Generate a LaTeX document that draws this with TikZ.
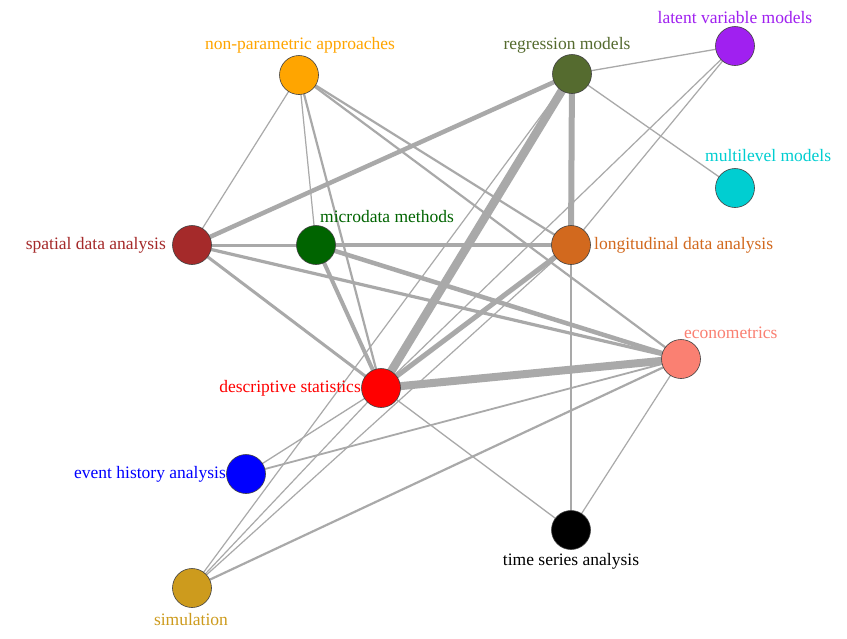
\documentclass[tikz,border=0pt]{standalone}
\usepackage{fontspec}
\setmainfont{Liberation Serif}
\definecolor{cNP}{RGB}{255,165,0}
\definecolor{cReg}{RGB}{85,107,47}
\definecolor{cLat}{RGB}{160,32,240}
\definecolor{cMul}{RGB}{0,206,209}
\definecolor{cSp}{RGB}{165,42,42}
\definecolor{cMic}{RGB}{0,100,0}
\definecolor{cLon}{RGB}{210,105,30}
\definecolor{cEco}{RGB}{250,128,114}
\definecolor{cDes}{RGB}{255,0,0}
\definecolor{cEH}{RGB}{0,0,255}
\definecolor{cTS}{RGB}{0,0,0}
\definecolor{cSim}{RGB}{205,155,29}
\definecolor{edgegray}{RGB}{169,169,169}
\tikzset{
  vert/.style={circle, draw=black!75, line width=0.6pt, minimum size=39pt, inner sep=0pt},
  lab/.style={inner sep=0pt, font=\fontsize{17.5}{20}\selectfont},
  edge/.style={draw=edgegray, line cap=butt},
}
\begin{document}
\begin{tikzpicture}[x=1pt,y=-1pt]
\useasboundingbox (0,0) rectangle (847,638);
\fill[white] (0,0) rectangle (847,638);
% vertex coordinates
\coordinate (np) at (299,75);
\coordinate (reg) at (572,74);
\coordinate (lat) at (735,46);
\coordinate (mul) at (735,188);
\coordinate (sp) at (192,245);
\coordinate (mic) at (316,245);
\coordinate (lon) at (571,245);
\coordinate (eco) at (681,359);
\coordinate (des) at (381,388);
\coordinate (eh) at (246,474);
\coordinate (ts) at (571,530);
\coordinate (sim) at (192,588);
% edges
\begin{scope}[edge]
\draw[line width=1.2] (sp) -- (np);
\draw[line width=4.5] (sp) -- (reg);
\draw[line width=3] (sp) -- (mic);
\draw[line width=3] (sp) -- (des);
\draw[line width=3.2] (sp) -- (eco);
\draw[line width=1.2] (np) -- (mic);
\draw[line width=2.2] (np) -- (des);
\draw[line width=2.2] (np) -- (lon);
\draw[line width=2.2] (np) -- (eco);
\draw[line width=4.2] (mic) -- (lon);
\draw[line width=4] (mic) -- (des);
\draw[line width=4.5] (mic) -- (eco);
\draw[line width=8.5] (reg) -- (des);
\draw[line width=6] (reg) -- (lon);
\draw[line width=1.3] (reg) -- (lat);
\draw[line width=1.3] (reg) -- (mul);
\draw[line width=1.2] (reg) -- (sim);
\draw[line width=1.2] (lat) -- (lon);
\draw[line width=1.2] (lat) -- (des);
\draw[line width=5] (lon) -- (des);
\draw[line width=1.2] (lon) -- (ts);
\draw[line width=1.2] (lon) -- (sim);
\draw[line width=8] (des) -- (eco);
\draw[line width=1.3] (des) -- (eh);
\draw[line width=1.2] (des) -- (sim);
\draw[line width=1.3] (des) -- (ts);
\draw[line width=1.8] (eco) -- (eh);
\draw[line width=2.2] (eco) -- (sim);
\draw[line width=1.2] (eco) -- (ts);
\end{scope}
% vertices
\node[vert, fill=cNP] (npN) at (np) {};
\node[vert, fill=cReg] (regN) at (reg) {};
\node[vert, fill=cLat] (latN) at (lat) {};
\node[vert, fill=cMul] (mulN) at (mul) {};
\node[vert, fill=cSp] (spN) at (sp) {};
\node[vert, fill=cMic] (micN) at (mic) {};
\node[vert, fill=cLon] (lonN) at (lon) {};
\node[vert, fill=cEco] (ecoN) at (eco) {};
\node[vert, fill=cDes] (desN) at (des) {};
\node[vert, fill=cEH] (ehN) at (eh) {};
\node[vert, fill=cTS] (tsN) at (ts) {};
\node[vert, fill=cSim] (simN) at (sim) {};
% labels
\node[lab, text=cNP] (npL) at (300,45) {non-parametric approaches};
\node[lab, text=cReg] (regL) at (567,45) {regression models};
\node[lab, text=cLat] (latL) at (735,18) {latent variable models};
\node[lab, text=cMul, anchor=west] (mulL) at (705,156) {multilevel models};
\node[lab, text=cSp, anchor=east] (spL) at (166,245) {spatial data analysis};
\node[lab, text=cMic, anchor=west] (micL) at (320,217) {microdata methods};
\node[lab, text=cLon, anchor=west] (lonL) at (594,245) {longitudinal data analysis};
\node[lab, text=cEco, anchor=west] (ecoL) at (684,333) {econometrics};
\node[lab, text=cDes, anchor=east] (desL) at (361,388) {descriptive statistics};
\node[lab, text=cEH, anchor=east] (ehL) at (226,474) {event history analysis};
\node[lab, text=cTS] (tsL) at (571,561) {time series analysis};
\node[lab, text=cSim] (simL) at (191,620) {simulation};
\end{tikzpicture}
\end{document}
